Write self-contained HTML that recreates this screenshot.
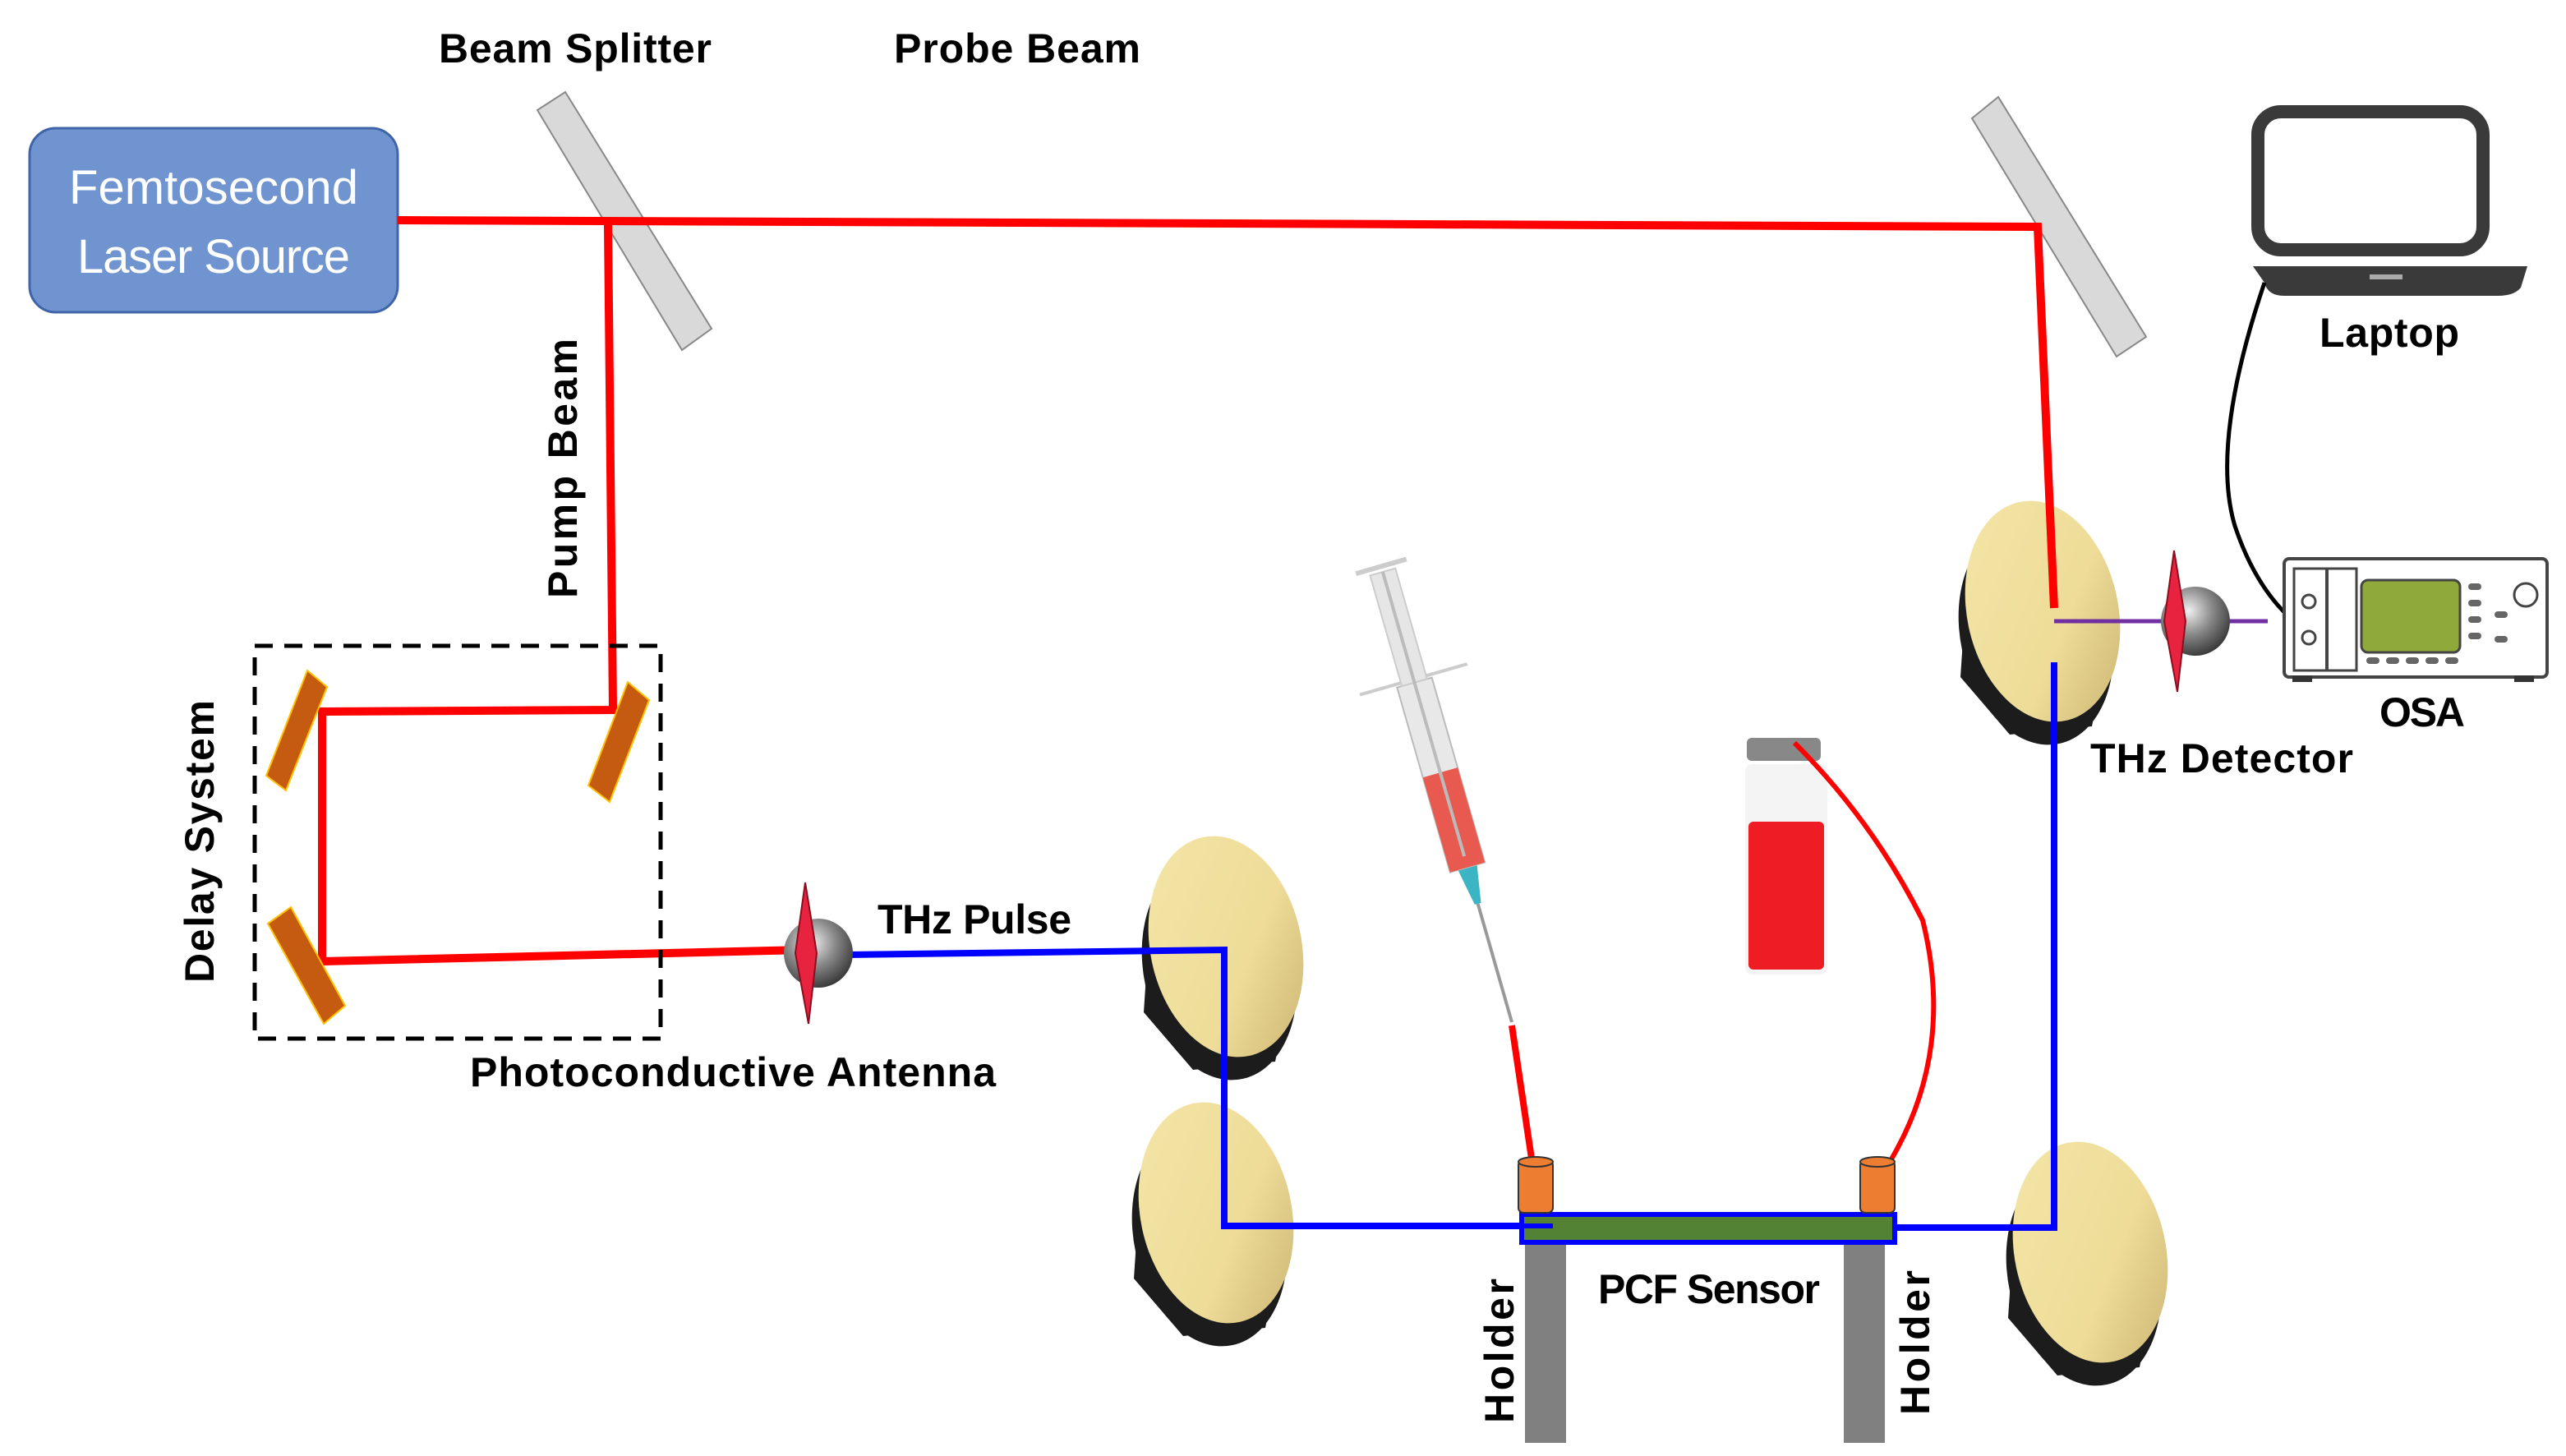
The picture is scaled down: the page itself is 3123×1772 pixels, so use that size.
<!DOCTYPE html>
<html><head><meta charset="utf-8"><style>
html,body{margin:0;padding:0;background:#fff;width:3123px;height:1772px;overflow:hidden}
svg{display:block}
text{font-family:"Liberation Sans Narrow","Liberation Sans",sans-serif;font-weight:bold;fill:#000}
</style></head><body>
<svg width="3123" height="1772" viewBox="0 0 1561.5 886" xmlns="http://www.w3.org/2000/svg">
<defs>
<linearGradient id="gold" x1="0" y1="0" x2="1" y2="1">
<stop offset="0" stop-color="#f3e6a8"/><stop offset="0.6" stop-color="#eedc98"/><stop offset="1" stop-color="#c9b170"/></linearGradient>
<radialGradient id="sph" cx="0.4" cy="0.35" r="0.7"><stop offset="0" stop-color="#f0f0f0"/><stop offset="0.5" stop-color="#888"/><stop offset="1" stop-color="#333"/></radialGradient>
<g id="pm">
<ellipse cx="-4" cy="14" rx="46" ry="68" transform="rotate(-12 -4 14)" fill="#1c1c1c"/>
<path d="M-48 10 L-50 40 L-20 75 L30 70 L40 20 Z" fill="#1c1c1c"/>
<ellipse cx="0" cy="0" rx="46" ry="68" transform="rotate(-12)" fill="url(#gold)"/>
</g>
</defs>

<rect x="18" y="78" width="224" height="112" rx="16" fill="#7094d0" stroke="#3f64a8" stroke-width="1.5"/>
<text x="130" y="124" text-anchor="middle" font-size="29" style="font-weight:normal;fill:#fff" textLength="176">Femtosecond</text>
<text x="130" y="166" text-anchor="middle" font-size="29" style="font-weight:normal;fill:#fff" textLength="166">Laser Source</text>

<polygon points="327,67 344,56 433,200 415,213" fill="#d9d9d9" stroke="#888" stroke-width="1"/>
<polygon points="1200,72 1216,59 1306,205 1288,217" fill="#d9d9d9" stroke="#888" stroke-width="1"/>

<use href="#pm" x="746" y="576"/>
<use href="#pm" x="740" y="738"/>
<use href="#pm" x="1243" y="372"/>
<use href="#pm" x="1272" y="762"/>

<g stroke="#ff0000" stroke-width="5" fill="none">
<path d="M242 134 L1240 138 L1250 370"/>
<path d="M370 137 L373 432 L196 433 L196 585 L490 578"/>
</g>
<rect x="155" y="393" width="247" height="239" fill="none" stroke="#000" stroke-width="2.5" stroke-dasharray="11,7"/>
<g stroke="#ffc000" stroke-width="1" fill="#c55a11">
<polygon points="187,408 199,418 174,481 162,472"/>
<polygon points="382,415 395,426 371,488 358,478"/>
<polygon points="163,562 177,552 210,612 197,623"/>
</g>

<path d="M515 581 L745 578 L745 746 L930 746" stroke="#0000ff" stroke-width="4" fill="none"/>
<path d="M1152 747 L1250 747 L1250 403" stroke="#0000ff" stroke-width="4" fill="none"/>
<path d="M1250 378 L1380 378" stroke="#7030a0" stroke-width="2.5"/>

<circle cx="498" cy="580" r="21" fill="url(#sph)"/>
<polygon points="490,537 497,580 492,623 484,580" fill="#e8233f" stroke="#8b0d1e" stroke-width="1"/>
<circle cx="1336" cy="378" r="21" fill="url(#sph)"/>
<polygon points="1323,335 1330,378 1325,421 1317,378" fill="#e8233f" stroke="#8b0d1e" stroke-width="1"/>

<rect x="1374" y="68" width="137" height="84" rx="14" fill="#fff" stroke="#3a3a3a" stroke-width="8"/>
<path d="M1371 162 L1538 162 L1534 175 Q1530 180 1520 180 L1390 180 Q1380 180 1378 172 Z" fill="#3a3a3a"/>
<rect x="1442" y="167" width="20" height="3" fill="#aaa"/>
<path d="M1378 172 Q1345 270 1360 320 Q1375 365 1405 385" stroke="#000" stroke-width="2.5" fill="none"/>

<rect x="1390" y="340" width="160" height="72" rx="3" fill="#fff" stroke="#444" stroke-width="2"/>
<rect x="1396" y="346" width="38" height="62" fill="#fff" stroke="#444" stroke-width="1.5"/>
<circle cx="1405" cy="366" r="4" fill="none" stroke="#444" stroke-width="1.5"/>
<circle cx="1405" cy="388" r="4" fill="none" stroke="#444" stroke-width="1.5"/>
<line x1="1416" y1="346" x2="1416" y2="408" stroke="#444" stroke-width="2"/>
<rect x="1437" y="353" width="60" height="44" rx="4" fill="#8faa3a" stroke="#444" stroke-width="1.5"/>
<g fill="#666"><rect x="1440" y="400" width="8" height="4" rx="2"/><rect x="1452" y="400" width="8" height="4" rx="2"/><rect x="1464" y="400" width="8" height="4" rx="2"/><rect x="1476" y="400" width="8" height="4" rx="2"/><rect x="1488" y="400" width="8" height="4" rx="2"/>
<rect x="1502" y="355" width="8" height="4" rx="2"/><rect x="1502" y="365" width="8" height="4" rx="2"/><rect x="1502" y="375" width="8" height="4" rx="2"/><rect x="1502" y="385" width="8" height="4" rx="2"/><rect x="1518" y="372" width="8" height="4" rx="2"/><rect x="1518" y="387" width="8" height="4" rx="2"/></g>
<circle cx="1537" cy="362" r="7" fill="none" stroke="#444" stroke-width="1.5"/>
<rect x="1395" y="411" width="12" height="4" fill="#333"/><rect x="1530" y="411" width="12" height="4" fill="#333"/>

<g transform="translate(920 622) rotate(-16)">
<rect x="-1" y="-75" width="2" height="75" fill="#999"/>
<polygon points="-6,-98 6,-98 2,-75 -2,-75" fill="#3bb5c3"/>
<rect x="-11" y="-215" width="22" height="117" fill="#e8e8e8" stroke="#bbb"/>
<rect x="-11" y="-158" width="22" height="60" fill="#e85a4f"/>
<rect x="-34" y="-218" width="68" height="2" fill="#ccc"/>
<rect x="-8" y="-285" width="16" height="70" fill="#e6e6e6" stroke="#ccc"/>
<rect x="-1" y="-285" width="2" height="180" fill="#bbb"/>
<rect x="-16" y="-290" width="32" height="3" fill="#ccc"/>
</g>
<path d="M920 624 L932 705" stroke="#ff0000" stroke-width="4"/>

<rect x="1063" y="449" width="45" height="14" rx="3" fill="#888"/>
<rect x="1062" y="465" width="50" height="128" rx="4" fill="#f4f4f4"/>
<rect x="1064" y="500" width="46" height="90" rx="3" fill="#ee1d24"/>
<path d="M1092 452 Q1140 500 1170 560 Q1190 640 1150 707" stroke="#ff0000" stroke-width="3" fill="none"/>

<rect x="928" y="756" width="25" height="122" fill="#808080"/>
<rect x="1122" y="756" width="25" height="122" fill="#808080"/>
<rect x="926" y="739" width="227" height="17" fill="#548235" stroke="#0000ff" stroke-width="3"/>
<path d="M920 746 L945 746" stroke="#0000ff" stroke-width="3"/>
<rect x="924" y="706" width="21" height="32" rx="3" fill="#ed7d31" stroke="#333" stroke-width="1"/>
<ellipse cx="934.5" cy="707" rx="10.5" ry="3" fill="#ed7d31" stroke="#333" stroke-width="1"/>
<rect x="1132" y="706" width="21" height="32" rx="3" fill="#ed7d31" stroke="#333" stroke-width="1"/>
<ellipse cx="1142.5" cy="707" rx="10.5" ry="3" fill="#ed7d31" stroke="#333" stroke-width="1"/>

<g font-size="25">
<text x="350" y="38" text-anchor="middle" textLength="166">Beam Splitter</text>
<text x="619" y="38" text-anchor="middle" textLength="150">Probe Beam</text>
<text x="1454" y="211" text-anchor="middle" textLength="85">Laptop</text>
<text x="1474" y="442" text-anchor="middle" textLength="52">OSA</text>
<text x="1352" y="470" text-anchor="middle" textLength="160">THz Detector</text>
<text x="593" y="568" text-anchor="middle" textLength="118">THz Pulse</text>
<text x="446" y="661" text-anchor="middle" textLength="320">Photoconductive Antenna</text>
<text x="1040" y="793" text-anchor="middle" textLength="135">PCF Sensor</text>
<text transform="translate(351 285) rotate(-90)" text-anchor="middle" textLength="158">Pump Beam</text>
<text transform="translate(130 512) rotate(-90)" text-anchor="middle" textLength="172">Delay System</text>
<text transform="translate(921 822) rotate(-90)" text-anchor="middle" textLength="88">Holder</text>
<text transform="translate(1174 817) rotate(-90)" text-anchor="middle" textLength="88">Holder</text>
</g>
</svg>
</body></html>
